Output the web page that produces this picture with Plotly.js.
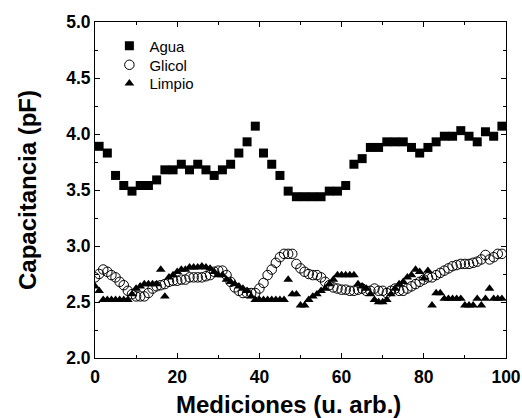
<!DOCTYPE html>
<html>
<head>
<meta charset="utf-8">
<script src="https://cdn.plot.ly/plotly-3.0.1.min.js"></script>
<style>html,body{margin:0;padding:0;background:#fff;}#chart{width:522px;height:418px;}</style>
</head>
<body>
<div id="chart"></div>
<script>
// Agua: every second measurement (x = 1, 3, ..., 99)
const aguaX = [1,3,5,7,9,11,13,15,17,19,21,23,25,27,29,31,33,35,37,39,41,43,45,47,49,51,53,55,57,59,61,63,65,67,69,71,73,75,77,79,81,83,85,87,89,91,93,95,97,99];
const aguaY = [3.89,3.83,3.63,3.54,3.49,3.54,3.54,3.59,3.68,3.68,3.73,3.68,3.73,3.68,3.63,3.68,3.73,3.83,3.93,4.07,3.83,3.73,3.63,3.49,3.44,3.44,3.44,3.44,3.49,3.49,3.54,3.73,3.78,3.88,3.88,3.93,3.93,3.93,3.88,3.83,3.88,3.93,3.98,3.98,4.03,3.98,3.93,4.02,3.98,4.07];

// Glicol and Limpio: every measurement (x = 0 ... 99)
const medX = [0,1,2,3,4,5,6,7,8,9,10,11,12,13,14,15,16,17,18,19,20,21,22,23,24,25,26,27,28,29,30,31,32,33,34,35,36,37,38,39,40,41,42,43,44,45,46,47,48,49,50,51,52,53,54,55,56,57,58,59,60,61,62,63,64,65,66,67,68,69,70,71,72,73,74,75,76,77,78,79,80,81,82,83,84,85,86,87,88,89,90,91,92,93,94,95,96,97,98,99];
const glicolY = [2.72,2.75,2.79,2.77,2.74,2.72,2.68,2.65,2.60,2.57,2.55,2.55,2.55,2.58,2.62,2.64,2.65,2.66,2.68,2.69,2.69,2.70,2.70,2.72,2.72,2.72,2.72,2.73,2.74,2.77,2.78,2.78,2.74,2.68,2.63,2.60,2.58,2.58,2.58,2.58,2.62,2.67,2.74,2.79,2.85,2.90,2.93,2.93,2.93,2.84,2.80,2.77,2.75,2.74,2.74,2.72,2.68,2.65,2.63,2.62,2.61,2.61,2.60,2.60,2.61,2.62,2.60,2.60,2.62,2.60,2.60,2.58,2.60,2.62,2.60,2.60,2.62,2.64,2.66,2.68,2.70,2.72,2.72,2.74,2.76,2.78,2.80,2.82,2.83,2.84,2.84,2.84,2.85,2.86,2.88,2.92,2.88,2.90,2.93,2.93];
const limpioY = [2.64,2.60,2.52,2.52,2.52,2.52,2.52,2.52,2.52,2.57,2.62,2.64,2.66,2.66,2.66,2.66,2.79,2.55,2.72,2.74,2.77,2.79,2.79,2.81,2.81,2.81,2.82,2.81,2.80,2.77,2.74,2.74,2.70,2.68,2.66,2.64,2.62,2.60,2.55,2.52,2.52,2.52,2.52,2.52,2.52,2.52,2.52,2.70,2.57,2.57,2.47,2.47,2.52,2.55,2.57,2.60,2.62,2.66,2.70,2.74,2.74,2.74,2.74,2.74,2.66,2.64,2.62,2.57,2.52,2.50,2.50,2.52,2.57,2.62,2.66,2.68,2.72,2.74,2.79,2.77,2.71,2.78,2.47,2.58,2.58,2.53,2.53,2.53,2.53,2.53,2.47,2.47,2.47,2.53,2.47,2.53,2.62,2.53,2.53,2.53];

const seriesNames = ["Agua","Glicol","Limpio"];
const xTitle = "Mediciones (u. arb.)";
const yTitle = "Capacitancia (pF)";

const FONT = "Liberation Sans, Arial, sans-serif";

const traces = [
  {x: aguaX, y: aguaY, name: seriesNames[0], type: "scatter", mode: "markers", legend: "legend",
   marker: {symbol: "square", size: 9, color: "#000"}},
  {x: medX, y: glicolY, name: seriesNames[1], type: "scatter", mode: "markers", legend: "legend2",
   marker: {symbol: "circle-open", size: 9.5, color: "#000", line: {width: 1, color: "#000"}}},
  {x: medX, y: limpioY, name: seriesNames[2], type: "scatter", mode: "markers", legend: "legend3",
   marker: {symbol: "triangle-up", size: 8.5, color: "#000"}}
];

const axisCommon = {
  showline: true, linecolor: "#000", linewidth: 1, mirror: "ticks",
  ticks: "inside", ticklen: 5, tickcolor: "#000", tickwidth: 1,
  showgrid: false, zeroline: false,
  tickfont: {family: FONT, size: 17.5, color: "#000", weight: "bold"}
};

const legendCommon = {x: 0.035, xanchor: "left", yanchor: "top", bgcolor: "rgba(0,0,0,0)",
  font: {size: 15, family: FONT, color: "#000"}};

const layout = {
  width: 522, height: 418,
  margin: {l: 95, r: 16, t: 22, b: 60},
  paper_bgcolor: "#fff", plot_bgcolor: "#fff",
  font: {family: FONT, color: "#000"},
  showlegend: true,
  legend: Object.assign({}, legendCommon, {y: 0.978}),
  legend2: Object.assign({}, legendCommon, {y: 0.921}),
  legend3: Object.assign({}, legendCommon, {y: 0.866}),
  xaxis: Object.assign({}, axisCommon, {
    range: [0, 100], tickvals: [0,20,40,60,80,100], ticktext: ["0","20","40","60","80","100"],
    ticklabelstandoff: 3,
    minor: {dtick: 10, ticks: "inside", ticklen: 3, tickcolor: "#000"}
  }),
  yaxis: Object.assign({}, axisCommon, {
    range: [2.0, 5.0], tickvals: [2.0,2.5,3.0,3.5,4.0,4.5,5.0], ticktext: ["2.0","2.5","3.0","3.5","4.0","4.5","5.0"],
    minor: {dtick: 0.25, ticks: "inside", ticklen: 3, tickcolor: "#000"},
    title: {text: yTitle, standoff: 22, font: {size: 24, weight: "bold", family: FONT}}
  }),
  annotations: [
    {text: xTitle, xref: "paper", yref: "paper", x: (288.5 - 95) / 411, y: (358 - 404) / 336,
     xanchor: "center", yanchor: "middle", showarrow: false,
     font: {size: 24, weight: "bold", family: FONT, color: "#000"}}
  ]
};

Plotly.newPlot("chart", traces, layout, {displayModeBar: false, staticPlot: true});
</script>
</body>
</html>
